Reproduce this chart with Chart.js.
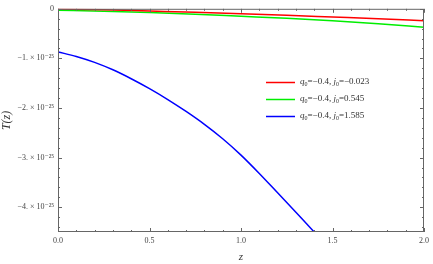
<!DOCTYPE html>
<html>
<head>
<meta charset="utf-8">
<script src="https://cdn.jsdelivr.net/npm/chart.js@4.4.1/dist/chart.umd.min.js"></script>
<style>
  html, body { margin: 0; padding: 0; background: #fff; }
  #wrap { width: 433px; height: 264px; }
</style>
</head>
<body>
<div id="wrap"><canvas id="myChart" width="433" height="264"></canvas></div>
<script>
// values
var zRed = [0, 0.25, 0.5, 0.75, 1.0, 1.25, 1.5, 1.75, 2.0];
var tRed = [-0.005e-25, -0.02e-25, -0.045e-25, -0.07e-25, -0.1e-25, -0.13e-25, -0.165e-25, -0.2e-25, -0.24e-25];

var zGreen = [0, 0.25, 0.5, 0.75, 1.0, 1.25, 1.5, 1.75, 2.0];
var tGreen = [-0.03e-25, -0.05e-25, -0.075e-25, -0.11e-25, -0.15e-25, -0.19e-25, -0.24e-25, -0.3e-25, -0.37e-25];

var zBlue = [0, 0.1, 0.2, 0.3, 0.4, 0.5, 0.6, 0.7, 0.8, 0.9, 1.0, 1.1, 1.2, 1.3, 1.4, 1.5];
var tBlue = [-0.87e-25, -0.96e-25, -1.08e-25, -1.23e-25, -1.41e-25, -1.61e-25, -1.83e-25, -2.07e-25,
             -2.33e-25, -2.62e-25, -2.95e-25, -3.32e-25, -3.71e-25, -4.1e-25, -4.5e-25, -4.92e-25];

var seriesNames = [["-0.4", "\u22120.023"], ["-0.4", "0.545"], ["-0.4", "1.585"]];
var seriesColors = ["#ff0000", "#00ee00", "#0000ff"];

var xTicks = [0, 0.5, 1.0, 1.5, 2.0];
var xTickLabels = ["0.0", "0.5", "1.0", "1.5", "2.0"];
var xMinor = [0.1, 0.2, 0.3, 0.4, 0.6, 0.7, 0.8, 0.9, 1.1, 1.2, 1.3, 1.4, 1.6, 1.7, 1.8, 1.9];

var yTicks = [0, -1e-25, -2e-25, -3e-25, -4e-25];
var yTickLabels = ["0", "\u22121. \u00d7 10\u207b\u00b2\u2075", "\u22122. \u00d7 10\u207b\u00b2\u2075",
                   "\u22123. \u00d7 10\u207b\u00b2\u2075", "\u22124. \u00d7 10\u207b\u00b2\u2075"];
var yMinor = [];
for (var k = 1; k <= 22; k++) {
  if (k % 5 != 0) yMinor.push(-k * 0.2e-25);
}

function pts(xs, ys) {
  return xs.map(function (x, i) { return { x: x, y: ys[i] }; });
}

var serif = "'Liberation Serif', 'DejaVu Serif', serif";

// Mathematica style frame: ticks pointing inward on all four sides
var frameTicks = {
  id: "frameTicks",
  afterDraw: function (chart) {
    var ctx = chart.ctx;
    var a = chart.chartArea;
    var xs = chart.scales.x, ys = chart.scales.y;
    ctx.save();
    ctx.strokeStyle = "#666";
    ctx.lineWidth = 1;
    ctx.strokeRect(a.left + 0.5, a.top + 0.5, a.right - a.left - 1, a.bottom - a.top - 1);
    ctx.beginPath();
    function xt(v, len) {
      var px = Math.round(xs.getPixelForValue(v)) + 0.5;
      ctx.moveTo(px, a.bottom); ctx.lineTo(px, a.bottom - len);
      ctx.moveTo(px, a.top); ctx.lineTo(px, a.top + len);
    }
    function yt(v, len) {
      var py = Math.round(ys.getPixelForValue(v)) + 0.5;
      ctx.moveTo(a.left, py); ctx.lineTo(a.left + len, py);
      ctx.moveTo(a.right, py); ctx.lineTo(a.right - len, py);
    }
    xTicks.forEach(function (v) { xt(v, 4); });
    xMinor.forEach(function (v) { xt(v, 2); });
    yTicks.forEach(function (v) { yt(v, 4); });
    yMinor.forEach(function (v) { yt(v, 2); });
    ctx.stroke();
    ctx.restore();
  }
};

// legend inside the plot, with italic symbols and subscripts
var innerLegend = {
  id: "innerLegend",
  afterDraw: function (chart) {
    var ctx = chart.ctx;
    var x0 = 266, rowY = [82, 99, 116];
    ctx.save();
    ctx.textBaseline = "middle";
    seriesNames.forEach(function (s, i) {
      var y = rowY[i];
      ctx.strokeStyle = seriesColors[i];
      ctx.lineWidth = 1.5;
      ctx.beginPath();
      ctx.moveTo(x0, y + 0.5); ctx.lineTo(x0 + 29, y + 0.5);
      ctx.stroke();
      ctx.fillStyle = "#333";
      var x = x0 + 34;
      function put(txt, font, dy) {
        ctx.font = font;
        ctx.fillText(txt, x, y + (dy || 0));
        x += ctx.measureText(txt).width;
      }
      put("q", "italic 9px " + serif);
      put("0", "6px " + serif, 2);
      put("=\u22120.4, ", "9px " + serif);
      put("j", "italic 9px " + serif);
      put("0", "6px " + serif, 2);
      put("=" + s[1], "9px " + serif);
    });
    ctx.restore();
  }
};

function makeSet(data, color) {
  return {
    data: data,
    borderColor: color,
    borderWidth: 1.5,
    pointRadius: 0,
    cubicInterpolationMode: "monotone",
    fill: false
  };
}

new Chart(document.getElementById("myChart").getContext("2d"), {
  type: "line",
  data: {
    datasets: [
      makeSet(pts(zRed, tRed), seriesColors[0]),
      makeSet(pts(zGreen, tGreen), seriesColors[1]),
      makeSet(pts(zBlue, tBlue), seriesColors[2])
    ]
  },
  options: {
    responsive: false,
    animation: false,
    layout: { padding: { top: 5, right: 5, left: 0, bottom: 0 } },
    plugins: {
      legend: { display: false },
      tooltip: { enabled: false }
    },
    scales: {
      x: {
        type: "linear",
        min: 0,
        max: 2,
        grid: { display: false, drawTicks: false },
        border: { display: false },
        afterBuildTicks: function (axis) {
          axis.ticks = xTicks.map(function (v) { return { value: v }; });
        },
        afterFit: function (axis) { axis.height = 32; },
        ticks: {
          padding: 4,
          maxRotation: 0,
          color: "#444",
          font: { family: serif, size: 8 },
          callback: function (v, i) { return xTickLabels[i]; }
        },
        title: {
          display: true,
          text: "z",
          color: "#333",
          padding: { top: 6, bottom: 0 },
          font: { family: serif, size: 11, style: "italic" }
        }
      },
      y: {
        type: "linear",
        min: -4.5e-25,
        max: 0,
        grid: { display: false, drawTicks: false },
        border: { display: false },
        afterBuildTicks: function (axis) {
          axis.ticks = yTicks.map(function (v) { return { value: v }; });
        },
        afterFit: function (axis) { axis.width = 58; },
        ticks: {
          padding: 4,
          color: "#444",
          font: { family: serif, size: 8 },
          callback: function (v, i) { return yTickLabels[i]; }
        },
        title: {
          display: true,
          text: "T(z)",
          color: "#333",
          padding: { top: 0, bottom: 2 },
          font: { family: serif, size: 12, style: "italic" }
        }
      }
    }
  },
  plugins: [frameTicks, innerLegend]
});
</script>
</body>
</html>
